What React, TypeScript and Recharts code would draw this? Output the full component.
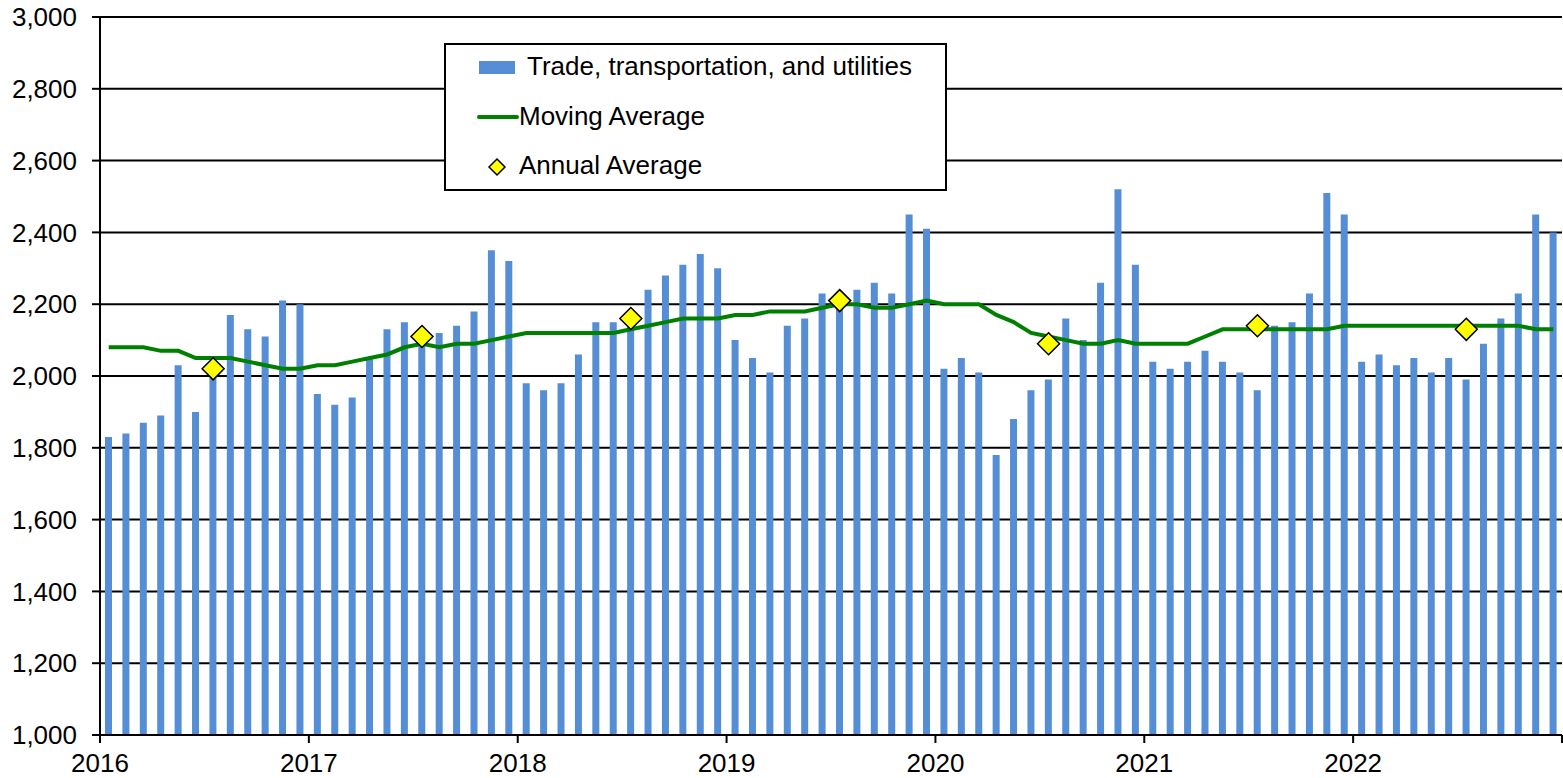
import { ComposedChart, Bar, Line, Scatter, XAxis, YAxis, CartesianGrid, Legend } from "recharts"

// monthly values, Jan 2016 .. Dec 2022
const years = [2016, 2017, 2018, 2019, 2020, 2021, 2022]

const monthly = [
  1830, 1840, 1870, 1890, 2030, 1900, 2000, 2170, 2130, 2110, 2210, 2200,
  1950, 1920, 1940, 2050, 2130, 2150, 2090, 2120, 2140, 2180, 2350, 2320,
  1980, 1960, 1980, 2060, 2150, 2150, 2140, 2240, 2280, 2310, 2340, 2300,
  2100, 2050, 2010, 2140, 2160, 2230, 2210, 2240, 2260, 2230, 2450, 2410,
  2020, 2050, 2010, 1780, 1880, 1960, 1990, 2160, 2100, 2260, 2520, 2310,
  2040, 2020, 2040, 2070, 2040, 2010, 1960, 2140, 2150, 2230, 2510, 2450,
  2040, 2060, 2030, 2050, 2010, 2050, 1990, 2090, 2160, 2230, 2450, 2400,
]

const movingAvg = [
  2080, 2080, 2080, 2070, 2070, 2050, 2050, 2050, 2040, 2030, 2020, 2020,
  2030, 2030, 2040, 2050, 2060, 2080, 2090, 2080, 2090, 2090, 2100, 2110,
  2120, 2120, 2120, 2120, 2120, 2120, 2130, 2140, 2150, 2160, 2160, 2160,
  2170, 2170, 2180, 2180, 2180, 2190, 2200, 2200, 2190, 2190, 2200, 2210,
  2200, 2200, 2200, 2170, 2150, 2120, 2110, 2100, 2090, 2090, 2100, 2090,
  2090, 2090, 2090, 2110, 2130, 2130, 2130, 2130, 2130, 2130, 2130, 2140,
  2140, 2140, 2140, 2140, 2140, 2140, 2140, 2140, 2140, 2140, 2130, 2130,
]

const annualAvg = [2020, 2110, 2160, 2210, 2090, 2140, 2130]

const yTicks = [1000, 1200, 1400, 1600, 1800, 2000, 2200, 2400, 2600, 2800, 3000]
const xTicks = [0, 12, 24, 36, 48, 60, 72, 84]

const data = monthly.map((v, i) => ({ x: i + 0.5, jobs: v, ma: movingAvg[i] }))
const annual = annualAvg.map((v, i) => ({ x: i * 12 + 6.5, avg: v }))

const FONT = "Arial, 'Liberation Sans', sans-serif"
const BLUE = "#558ed5"
const GREEN = "#008000"

function Diamond({ cx, cy, r = 11 }: { cx?: number, cy?: number, r?: number }) {
  if (cx == null || cy == null) return null
  return (
    <polygon
      points={`${cx},${cy - r} ${cx + r},${cy} ${cx},${cy + r} ${cx - r},${cy}`}
      fill="#ffff00"
      stroke="#000"
      strokeWidth={1.5}
    />
  )
}

function LegendBox() {
  return (
    <svg width={503} height={148} style={{ display: "block", fontFamily: FONT }}>
      <rect x={1} y={1} width={501} height={146} fill="#fff" stroke="#000" strokeWidth={2} />
      <rect x={35} y={18} width={36} height={13} fill={BLUE} />
      <text x={83} y={32} fontSize={26} fill="#000">Trade, transportation, and utilities</text>
      <line x1={35} y1={74} x2={73} y2={74} stroke={GREEN} strokeWidth={4} strokeLinecap="round" />
      <text x={75} y={82} fontSize={26} fill="#000">Moving Average</text>
      <Diamond cx={53} cy={124} r={8} />
      <text x={75} y={131} fontSize={26} fill="#000">Annual Average</text>
    </svg>
  )
}

export default function App() {
  return (
    <div style={{ position: "absolute", left: 0, top: 0, background: "#fff" }}>
      <ComposedChart
        width={1563}
        height={778}
        data={data}
        margin={{ top: 17, right: 1, left: 0, bottom: 0 }}
        style={{ fontFamily: FONT }}
      >
        <CartesianGrid vertical={false} stroke="#000" strokeWidth={2} />
        <XAxis
          type="number"
          dataKey="x"
          domain={[0, 84]}
          ticks={xTicks}
          tickFormatter={(v: number) => (v < 84 ? String(years[v / 12]) : "")}
          height={43}
          tickSize={8}
          tickMargin={11}
          axisLine={{ stroke: "#000", strokeWidth: 2 }}
          tickLine={{ stroke: "#000", strokeWidth: 2 }}
          tick={{ fill: "#000", fontSize: 26 }}
          interval={0}
        />
        <YAxis
          domain={[1000, 3000]}
          ticks={yTicks}
          width={100}
          tickSize={8}
          tickMargin={15}
          axisLine={{ stroke: "#000", strokeWidth: 2 }}
          tickLine={{ stroke: "#000", strokeWidth: 2 }}
          tick={{ fill: "#000", fontSize: 26 }}
          tickFormatter={(v: number) => v.toLocaleString("en-US")}
          interval={0}
        />
        <Legend
          layout="horizontal"
          verticalAlign="middle"
          align="center"
          content={() => <LegendBox />}
          wrapperStyle={{ left: 444, top: 43, width: 503, height: 148 }}
        />
        <Bar dataKey="jobs" fill={BLUE} barSize={7} isAnimationActive={false} />
        <Line
          type="linear"
          dataKey="ma"
          stroke={GREEN}
          strokeWidth={4}
          dot={false}
          activeDot={false}
          isAnimationActive={false}
        />
        <Scatter data={annual} dataKey="avg" shape={(p: any) => <Diamond cx={p.cx} cy={p.cy} />} isAnimationActive={false} />
      </ComposedChart>
    </div>
  )
}
